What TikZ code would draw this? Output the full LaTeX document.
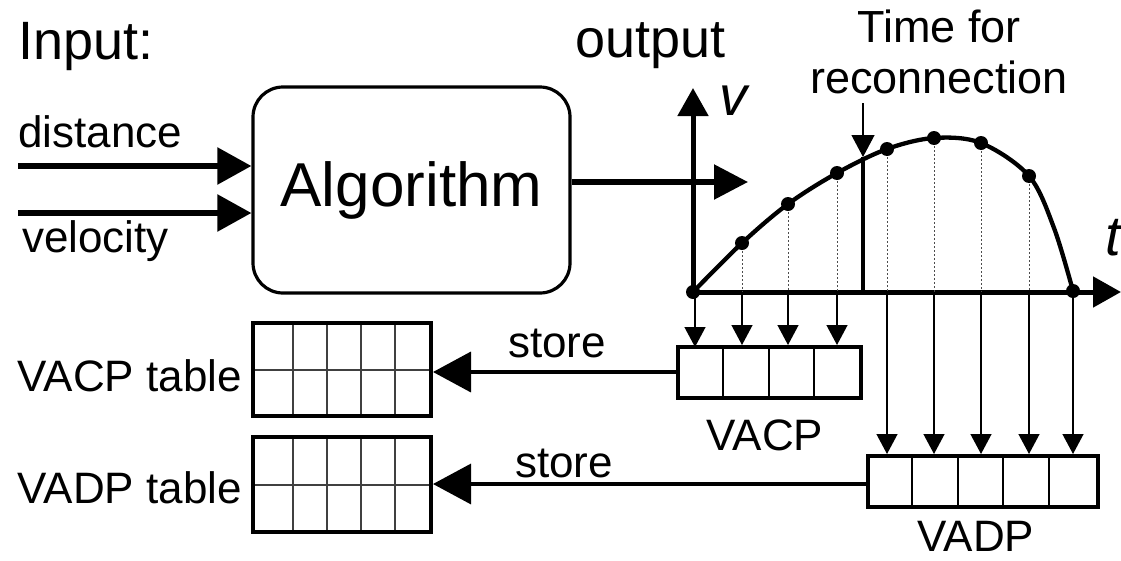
\documentclass[tikz,border=0pt]{standalone}
\usepackage{fontspec}
\setmainfont{Liberation Sans}
\usetikzlibrary{arrows.meta,calc}
\begin{document}
\begin{tikzpicture}[x=1pt,y=-1pt,
  bigarrow/.style={line width=5.5pt,-{Triangle[length=34pt,width=36pt]}},
  axisline/.style={line width=5pt,-{Triangle[length=28pt,width=30pt]}},
  curveline/.style={line width=4.3pt},
  dotline/.style={line width=0.9pt,black!70,dash pattern=on 2pt off 2pt},
  downarrow/.style={line width=1.3pt,-{Triangle[length=20pt,width=21pt]}},
  storearrow/.style={line width=3.8pt,-{Triangle[length=38pt,width=40pt]}},
  gridline/.style={line width=1.4pt,black!75},
  tablebox/.style={draw,line width=4pt,inner sep=0pt,minimum width=178pt,minimum height=93pt},
  cellbox/.style={draw,line width=4pt,inner sep=0pt,minimum height=51pt},
  dotmark/.style={circle,fill=black,inner sep=0pt,minimum size=14pt},
  lbl/.style={font=\fontsize{44}{48}\selectfont,inner sep=0pt},
  title/.style={font=\fontsize{54}{58}\selectfont,inner sep=0pt},
  axislbl/.style={font=\fontsize{56}{58}\selectfont\itshape,inner sep=0pt}
]
\useasboundingbox (0,0) rectangle (1121,560);

% titles
\node[title,anchor=base west] (input) at (18,59) {Input:};
\node[title,anchor=base west] (output) at (575,57) {output};
\node[lbl,font=\fontsize{45}{51}\selectfont,align=center,anchor=south] (recon) at (939,94) {Time for\\reconnection};

% algorithm block
\node[draw,line width=3.2pt,rounded corners=30pt,minimum width=317pt,minimum height=206pt,
      font=\fontsize{62}{66}\selectfont] (alg) at (411.5,190) {Algorithm};

% inputs
\coordinate (din) at (18,166);
\coordinate (vin) at (18,213);
\draw[bigarrow] (din) -- (alg.west |- din);
\draw[bigarrow] (vin) -- (alg.west |- vin);
\node[lbl,anchor=base west] (dist) at (18,147) {distance};
\node[lbl,anchor=base west] (velo) at (22,252) {velocity};

% output arrow
\coordinate (outtip) at (748,182);
\draw[bigarrow,-{Triangle[length=34pt,width=34pt]}] (alg.east |- outtip) -- (outtip);

% axes
\coordinate (o) at (693,292);
\coordinate (vtop) at (693,88);
\coordinate (tend) at (1121,292);
\draw[axisline] (o) -- (vtop);
\draw[axisline] (o) -- (tend);
\node[axislbl] (vlab) at (733,101) {v};
\node[axislbl] (tlab) at (1113,238) {t};

% curve points
\coordinate (p1) at (742,243);
\coordinate (p2) at (788,204);
\coordinate (p3) at (837,173);
\coordinate (p4) at (887,149);
\coordinate (p5) at (934,138);
\coordinate (p6) at (981,143);
\coordinate (p7) at (1029,176);
\coordinate (p8) at (1073,291);

% dotted drops
\foreach \p in {p1,p2,p3,p4,p5,p6,p7}
  \draw[dotline] (\p) -- (\p |- o);

% curve
\draw[curveline] plot[smooth,tension=0.55] coordinates {(o) (p1) (p2) (p3) (p4) (p5) (p6) (p7) (1054,228) (p8)};

% reconnection marker
\coordinate (rtop) at (863,103);
\coordinate (rtip) at (863,157);
\draw[line width=1.2pt,-{Triangle[length=22pt,width=23pt]}] (rtop) -- (rtip);
\draw[line width=4.5pt] (rtip) -- (rtip |- o);

% dots
\foreach \p in {o,p1,p2,p3,p4,p5,p6,p7,p8}
  \node[dotmark] at (\p) {};

% VACP array
\foreach \x in {723,769,814} \draw[line width=1.2pt] (\x,347) -- (\x,398);
\node[cellbox,minimum width=183pt] (vacp) at (769.5,372.5) {};
\node[lbl,anchor=base] (vacplab) at (765,450) {VACP};

% VADP array
\foreach \x in {912,958,1003,1049} \draw[line width=1.2pt] (\x,456) -- (\x,507);
\node[cellbox,minimum width=230pt] (vadp) at (983,481.5) {};
\node[lbl,anchor=base] (vadplab) at (976,551) {VADP};

% arrows from axis to arrays
\draw[downarrow] (695,294) -- (695,347);
\foreach \p in {p1,p2,p3}
  \draw[downarrow] (\p |- o) -- (\p |- vacp.north);
\foreach \p in {p4,p5,p6,p7,p8}
  \draw[downarrow] (\p |- o) -- (\p |- vadp.north);

% tables
\foreach \x in {293,327,361,395} \draw[gridline] (\x,323) -- (\x,416);
\draw[gridline] (253,370) -- (431,370);
\node[tablebox] (vacptbl) at (342,369.5) {};
\node[lbl,anchor=base east] (vacptbllab) at (242,391) {VACP table};

\foreach \x in {293,327,361,395} \draw[gridline] (\x,437) -- (\x,532);
\draw[gridline] (253,485) -- (431,485);
\node[tablebox,minimum height=95pt] (vadptbl) at (342,484.5) {};
\node[lbl,anchor=base east] (vadptbllab) at (242,503) {VADP table};

% store arrows
\draw[storearrow] (vacp.west |- 0,372) -- (vacptbl.east |- 0,372);
\draw[storearrow,line width=3.3pt] (vadp.west |- 0,484) -- (vadptbl.east |- 0,484);
\node[lbl,anchor=base] (store1) at (557,357) {store};
\node[lbl,anchor=base] (store2) at (564,477) {store};

\end{tikzpicture}
\end{document}
